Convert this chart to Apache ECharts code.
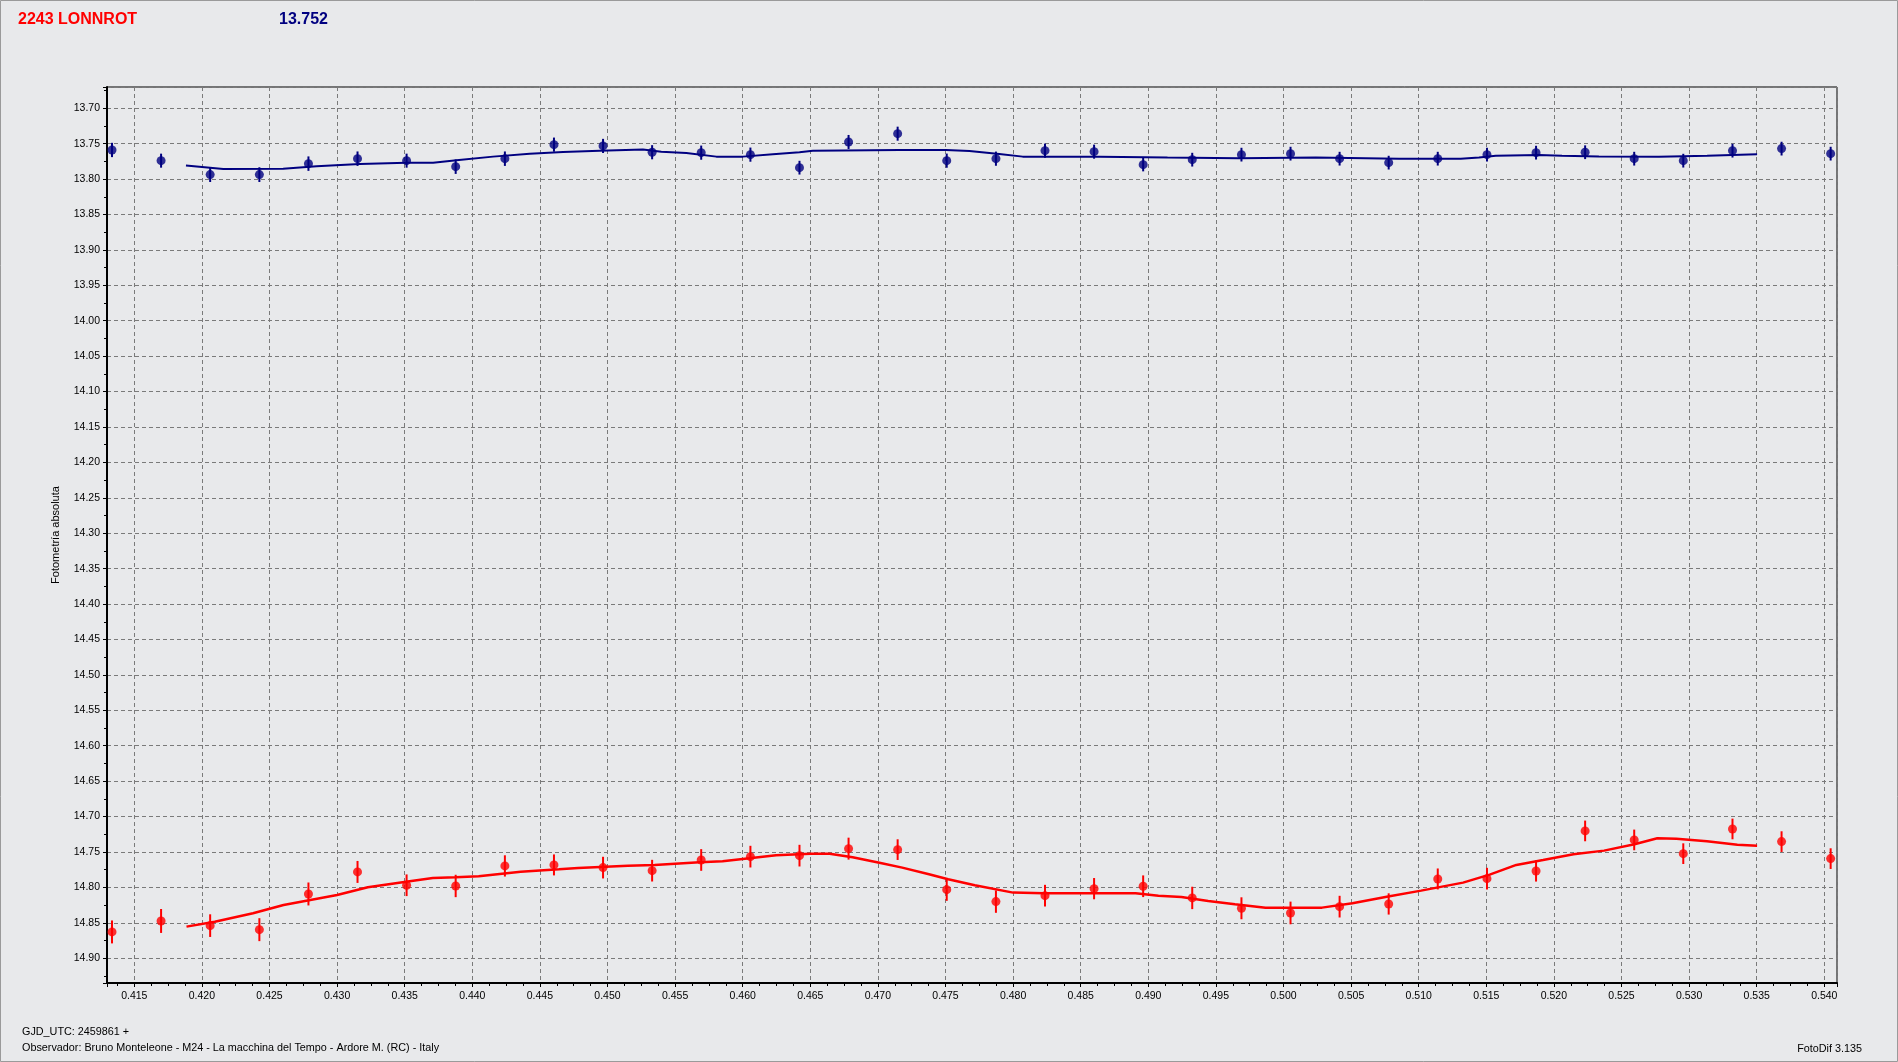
<!DOCTYPE html>
<html><head><meta charset="utf-8">
<script src="https://cdn.jsdelivr.net/npm/echarts@6/dist/echarts.min.js"></script>
<style>
html,body{margin:0;padding:0;background:#e8e9eb;overflow:hidden;}
#c{width:1898px;height:1062px;}
</style></head><body><div id="c"></div>
<script>
// ---- data ----
const titleName = '2243 LONNROT';
const titleMag = '13.752';
const yAxisName = 'Fotometría absoluta';
const footer1 = 'GJD_UTC: 2459861 +';
const footer2 = 'Observador: Bruno Monteleone - M24 - La macchina del Tempo - Ardore M. (RC) - Italy';
const footer3 = 'FotoDif 3.135';

// time of each observation (fraction of day after GJD 2459861)
const times = [0.41335,0.41698,0.42061,0.42425,0.42788,0.43151,0.43514,0.43877,0.44241,0.44604,
  0.44967,0.45330,0.45693,0.46057,0.46420,0.46783,0.47146,0.47509,0.47873,0.48236,
  0.48599,0.48962,0.49325,0.49689,0.50052,0.50415,0.50778,0.51141,0.51505,0.51868,
  0.52231,0.52594,0.52957,0.53321,0.53684,0.54047];

// comparison star (blue)
const blueMag = [13.7589,13.7740,13.7937,13.7937,13.7782,13.7712,13.7740,13.7825,13.7712,13.7514,
  13.7532,13.7621,13.7627,13.7655,13.7839,13.7476,13.7359,13.7740,13.7712,13.7599,
  13.7613,13.7796,13.7726,13.7655,13.7641,13.7712,13.7768,13.7712,13.7655,13.7627,
  13.7621,13.7712,13.7740,13.7599,13.7570,13.7641];
const blueErr = [0.0101,0.0099,0.0104,0.0104,0.0102,0.0102,0.0099,0.0102,0.0102,0.0100,
  0.0100,0.0100,0.0100,0.0100,0.0097,0.0099,0.0099,0.0100,0.0100,0.0100,
  0.0099,0.0095,0.0097,0.0097,0.0097,0.0097,0.0097,0.0097,0.0097,0.0097,
  0.0097,0.0097,0.0097,0.0097,0.0097,0.0097];

// asteroid (red)
const redMag = [14.8629,14.8474,14.8540,14.8597,14.8093,14.7782,14.7970,14.7980,14.7697,14.7683,
  14.7721,14.7764,14.7613,14.7566,14.7552,14.7453,14.7467,14.8032,14.8201,14.8117,
  14.8018,14.7984,14.8149,14.8295,14.8361,14.8272,14.8234,14.7881,14.7877,14.7768,
  14.7203,14.7330,14.7524,14.7175,14.7354,14.7594];
const redErr = [0.0162,0.0169,0.0160,0.0162,0.0162,0.0155,0.0153,0.0158,0.0150,0.0148,
  0.0153,0.0153,0.0153,0.0153,0.0153,0.0155,0.0146,0.0158,0.0158,0.0153,
  0.0150,0.0153,0.0158,0.0155,0.0160,0.0153,0.0150,0.0148,0.0153,0.0150,
  0.0146,0.0146,0.0146,0.0146,0.0146,0.0146];

// fitted curves
const blueFitX = [0.41882,0.42060,0.42158,0.42601,0.42848,0.43168,0.43513,0.43710,0.43883,0.44153,
  0.44425,0.44671,0.44942,0.45262,0.45398,0.45583,0.45805,0.46001,0.46223,0.46420,
  0.46519,0.47160,0.47504,0.47677,0.47898,0.48071,0.48637,0.49142,0.49672,0.50239,
  0.50855,0.51311,0.51446,0.51570,0.51890,0.52060,0.52333,0.52777,0.53133,0.53503];
const blueFitY = [13.7810,13.7839,13.7857,13.7853,13.7819,13.7786,13.7768,13.7768,13.7734,13.7683,
  13.7641,13.7617,13.7599,13.7584,13.7613,13.7631,13.7683,13.7683,13.7649,13.7621,
  13.7599,13.7589,13.7589,13.7603,13.7645,13.7683,13.7683,13.7697,13.7705,13.7697,
  13.7712,13.7712,13.7697,13.7669,13.7659,13.7669,13.7680,13.7683,13.7669,13.7649];
const redFitX = [0.41886,0.42095,0.42378,0.42604,0.42802,0.43000,0.43227,0.43510,0.43708,0.43877,
  0.44047,0.44358,0.44641,0.44782,0.45150,0.45348,0.45681,0.45851,0.46049,0.46247,
  0.46501,0.46643,0.46813,0.47011,0.47180,0.47378,0.47520,0.47717,0.48000,0.48226,
  0.48906,0.49075,0.49245,0.49443,0.49641,0.49867,0.50115,0.50285,0.50510,0.50764,
  0.51018,0.51328,0.51525,0.51722,0.51920,0.52145,0.52371,0.52596,0.52765,0.52906,
  0.53132,0.53357,0.53503];
const redFitY = [14.8554,14.8484,14.8365,14.8248,14.8177,14.8107,14.7998,14.7919,14.7867,14.7857,
  14.7843,14.7778,14.7744,14.7726,14.7693,14.7683,14.7644,14.7631,14.7589,14.7546,
  14.7524,14.7524,14.7575,14.7651,14.7721,14.7815,14.7885,14.7970,14.8074,14.8083,
  14.8083,14.8117,14.8135,14.8191,14.8238,14.8286,14.8286,14.8286,14.8224,14.8131,
  14.8046,14.7933,14.7820,14.7683,14.7613,14.7532,14.7481,14.7391,14.7306,14.7312,
  14.7349,14.7397,14.7411];

// axis ranges / tick steps
const xRange = [0.41298, 0.54094];
const yRange = [13.670, 14.935];
const xDecimals = 3, yDecimals = 2;

// ---- build ----
const BLUE = '#000080', RED = '#ff0000';
const zip = (a, b) => a.map((v, i) => [v, b[i]]);
const errData = (m, e) => times.map((t, i) => [t, m[i] - e[i], m[i] + e[i]]);
function errItem(params, api) {
  const p1 = api.coord([api.value(0), api.value(1)]);
  const p2 = api.coord([api.value(0), api.value(2)]);
  return { type: 'line', shape: { x1: p1[0], y1: p1[1], x2: p2[0], y2: p2[1] },
    style: { stroke: api.visual('color'), lineWidth: 2 } };
}
const FONT = '"Liberation Sans", Arial, sans-serif';
const chart = echarts.init(document.getElementById('c'), null, { renderer: 'canvas' });
chart.setOption({
  backgroundColor: '#e8e9eb',
  animation: false,
  textStyle: { fontFamily: FONT },
  grid: { left: 107, right: 61, top: 87, bottom: 79, show: true, borderColor: '#000', borderWidth: 1,
    backgroundColor: 'transparent', containLabel: false, outerBoundsMode: 'none' },
  xAxis: {
    type: 'value', min: xRange[0], max: xRange[1], splitNumber: 25,
    axisLine: { show: true, onZero: false, lineStyle: { color: '#000', width: 2 } },
    axisTick: { show: true, length: 4, lineStyle: { color: '#000' } },
    minorTick: { show: true, splitNumber: 4, length: 3, lineStyle: { color: '#000' } },
    axisLabel: { showMinLabel: false, showMaxLabel: false, margin: 8, color: '#000', fontSize: 10.5,
      fontFamily: FONT, formatter: v => v.toFixed(xDecimals) },
    splitLine: { show: true, lineStyle: { color: '#7a7a7a', type: [4, 3], width: 1 } }
  },
  yAxis: {
    type: 'value', inverse: true, min: yRange[0], max: yRange[1], splitNumber: 25,
    name: yAxisName, nameLocation: 'middle', nameGap: 46, nameRotate: 90,
    nameTextStyle: { color: '#000', fontSize: 11, fontFamily: FONT },
    axisLine: { show: true, onZero: false, lineStyle: { color: '#000', width: 2 } },
    axisTick: { show: true, length: 4, lineStyle: { color: '#000' } },
    minorTick: { show: true, splitNumber: 2, length: 3, lineStyle: { color: '#000' } },
    axisLabel: { showMinLabel: false, showMaxLabel: false, margin: 7, color: '#000', fontSize: 10.5,
      fontFamily: FONT, formatter: v => v.toFixed(yDecimals) },
    splitLine: { show: true, lineStyle: { color: '#7a7a7a', type: [4, 3], width: 1 } }
  },
  graphic: [
    { type: 'rect', silent: true, shape: { x: 0.5, y: 0.5, width: 1897, height: 1061 },
      style: { fill: 'none', stroke: '#9a9a9a', lineWidth: 1 } },
    { type: 'text', x: 18, y: 19.5, style: { text: titleName, fill: RED, font: 'bold 16px ' + FONT, textVerticalAlign: 'middle' } },
    { type: 'text', x: 279, y: 19.5, style: { text: titleMag, fill: BLUE, font: 'bold 16px ' + FONT, textVerticalAlign: 'middle' } },
    { type: 'text', x: 22, y: 1032.5, style: { text: footer1, fill: '#000', font: '10.8px ' + FONT, textVerticalAlign: 'middle' } },
    { type: 'text', x: 22, y: 1048.5, style: { text: footer2, fill: '#000', font: '10.8px ' + FONT, textVerticalAlign: 'middle' } },
    { type: 'text', x: 1862, y: 1049, style: { text: footer3, fill: '#000', font: '10.8px ' + FONT, textAlign: 'right', textVerticalAlign: 'middle' } }
  ],
  series: [
    { name: 'blueFit', type: 'line', data: zip(blueFitX, blueFitY), showSymbol: false, symbol: 'none',
      lineStyle: { color: BLUE, width: 2 }, itemStyle: { color: BLUE }, z: 2 },
    { name: 'redFit', type: 'line', data: zip(redFitX, redFitY), showSymbol: false, symbol: 'none',
      lineStyle: { color: RED, width: 2.5 }, itemStyle: { color: RED }, z: 2 },
    { name: 'blueErr', type: 'custom', renderItem: errItem, data: errData(blueMag, blueErr),
      encode: { x: 0, y: [1, 2] }, itemStyle: { color: BLUE }, z: 3 },
    { name: 'redErr', type: 'custom', renderItem: errItem, data: errData(redMag, redErr),
      encode: { x: 0, y: [1, 2] }, itemStyle: { color: RED }, z: 3 },
    { name: 'blue', type: 'scatter', data: zip(times, blueMag), symbol: 'circle', symbolSize: 9,
      itemStyle: { color: BLUE }, z: 4 },
    { name: 'red', type: 'scatter', data: zip(times, redMag), symbol: 'circle', symbolSize: 9,
      itemStyle: { color: RED }, z: 4 }
  ]
});
</script></body></html>
